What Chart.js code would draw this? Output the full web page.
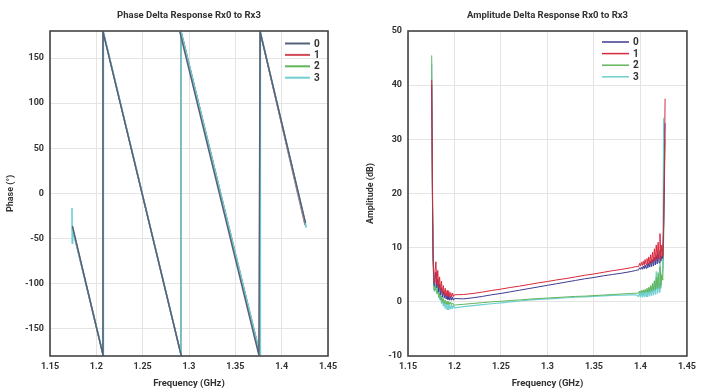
<!DOCTYPE html>
<html><head><meta charset="utf-8">
<script src="https://cdn.jsdelivr.net/npm/chart.js@4.4.0/dist/chart.umd.min.js"></script>
<style>
html,body{margin:0;padding:0;background:#fff;width:701px;height:392px;overflow:hidden}
#c1{position:absolute;left:0;top:0}
#c2{position:absolute;left:350px;top:0}
</style></head><body>
<canvas id="c1" width="350" height="392"></canvas>
<canvas id="c2" width="351" height="392"></canvas>
<script>
// ---------- shared ----------
const seriesLabels = ['0', '1', '2', '3'];
const xTicks = [1.15, 1.2, 1.25, 1.3, 1.35, 1.4, 1.45];
const xTickLabels = ['1.15', '1.2', '1.25', '1.3', '1.35', '1.4', '1.45'];

// ---------- phase chart ----------
const phaseTicks = [-150, -100, -50, 0, 50, 100, 150];
const phaseFreq0 = [1.1742, 1.2072, 1.2072, 1.2915, null, 1.2901, 1.3754, 1.3768, 1.4258];
const phaseVal0  = [-36, -179, 179, -179, null, 179, -179, 179, -33];
const phaseFreq1 = [1.1742, 1.2074, 1.2074, 1.2915, 1.2915, 1.3768, 1.3768, 1.4252];
const phaseVal1  = [-38, -179, 179, -179, 179, -179, 179, -35];
const phaseFreq2 = [1.1742, 1.2074, 1.2074, 1.2915, 1.2915, 1.3768, 1.3768, 1.4262];
const phaseVal2  = [-38, -179, 179, -179, 179, -179, 179, -36];
const phaseFreq3 = [1.1737, 1.1740, 1.1745, 1.2076, 1.2076, 1.2915, 1.2915, 1.3770, 1.3770, 1.4265];
const phaseVal3  = [-16, -55, -40, -179, 179, -179, 179, -179, 179, -38];

// ---------- amplitude chart ----------
const ampTicks = [-10, 0, 10, 20, 30, 40, 50];
const ampFreq = [
  1.1755, 1.1762, 1.1770,
  1.178, 1.179, 1.180, 1.181, 1.182, 1.183, 1.184, 1.185, 1.186, 1.187, 1.188, 1.189,
  1.190, 1.191, 1.192, 1.193, 1.194, 1.195, 1.196, 1.197, 1.198, 1.199, 1.200,
  1.21, 1.22, 1.23, 1.24, 1.25, 1.26, 1.27, 1.28, 1.29, 1.30, 1.31, 1.32, 1.33, 1.34,
  1.35, 1.36, 1.37, 1.38, 1.39, 1.395,
  1.398, 1.399, 1.400, 1.401, 1.402, 1.403, 1.404, 1.405, 1.406, 1.407, 1.408, 1.409,
  1.410, 1.411, 1.412, 1.413, 1.414, 1.415, 1.416, 1.417, 1.418, 1.419, 1.420, 1.421,
  1.422, 1.423, 1.424, 1.425, 1.4265
];
const amp0 = [
  40, 20, 8,
  3.0, 4.2, 5.5, 2.6, 4.2, 1.8, 3.3, 1.3, 2.6, 0.9, 2.0, 0.7,
  1.6, 0.5, 1.3, 0.4, 1.1, 0.3, 1.0, 0.3, 0.9, 0.3, 0.6,
  0.55, 0.75, 1.0, 1.3, 1.55, 1.85, 2.15, 2.45, 2.75, 3.05, 3.35, 3.65, 3.95, 4.25,
  4.5, 4.8, 5.05, 5.3, 5.6, 5.8,
  5.9, 6.3, 6.0, 6.4, 6.0, 6.6, 6.1, 6.8, 6.2, 7.0, 6.3, 7.2,
  6.4, 7.5, 6.5, 7.8, 6.6, 8.2, 6.8, 8.6, 7.0, 9.0, 7.2, 9.5,
  7.5, 8.5, 8.0, 14, 33
];
const amp1 = [
  41, 22, 9,
  3.5, 5.5, 7.4, 3.2, 5.8, 2.6, 4.6, 2.0, 3.8, 1.6, 3.0, 1.3,
  2.5, 1.1, 2.1, 1.0, 1.9, 0.9, 1.7, 0.9, 1.6, 1.0, 1.3,
  1.35, 1.55, 1.8, 2.1, 2.35, 2.65, 2.9, 3.2, 3.5, 3.75, 4.05, 4.3, 4.6, 4.9,
  5.15, 5.45, 5.75, 6.0, 6.3, 6.5,
  6.5, 7.1, 6.6, 7.3, 6.7, 7.5, 6.8, 7.8, 6.9, 8.0, 7.0, 8.3,
  7.1, 8.7, 7.2, 9.2, 7.4, 9.8, 7.6, 10.5, 7.8, 11.0, 8.0, 12.6,
  8.0, 10.5, 8.5, 15, 37.5
];
const amp2 = [
  45.5, 24, 8,
  2.2, 3.0, 2.5, 1.5, 2.4, 0.8, 1.6, 0.3, 1.0, -0.1, 0.6, -0.3,
  0.3, -0.4, 0.1, -0.5, 0.0, -0.5, -0.1, -0.5, -0.2, -0.5, -0.6,
  -0.45, -0.3, -0.15, 0.0, 0.1, 0.25, 0.35, 0.5, 0.6, 0.7, 0.8, 0.9, 1.0, 1.05,
  1.15, 1.25, 1.35, 1.45, 1.55, 1.6,
  1.6, 2.0, 1.6, 2.1, 1.7, 2.2, 1.7, 2.3, 1.8, 2.5, 1.8, 2.7,
  1.9, 3.0, 2.0, 3.4, 2.1, 3.9, 2.2, 4.5, 2.4, 5.4, 2.6, 6.5,
  3.0, 5.0, 4.0, 12, 30
];
const amp3 = [
  44, 23, 7,
  2.0, 2.8, 2.2, 4.6, 1.5, 3.0, 0.5, 1.8, -0.3, 0.8, -0.8, 0.2,
  -1.2, -0.2, -1.4, -0.4, -1.4, -0.6, -1.3, -0.6, -1.2, -0.6, -1.1,
  -0.9, -0.7, -0.5, -0.35, -0.2, 0.0, 0.15, 0.3, 0.45, 0.55, 0.65, 0.75, 0.85, 0.9,
  1.0, 1.1, 1.2, 1.25, 1.3, 1.3,
  1.0, 1.8, 0.9, 1.9, 0.9, 2.0, 0.9, 2.1, 1.0, 2.3, 1.0, 2.5,
  1.1, 2.8, 1.2, 3.2, 1.3, 3.8, 1.4, 5.6, 1.5, 4.5, 1.8, 7.4,
  2.5, 5.0, 6.0, 34, null
];

// ---------- helpers ----------
const pts = (xs, ys) => xs.map((x, i) => ({ x: x, y: ys[i] }));
const FONT = 'Roboto, "Open Sans", sans-serif';
const TXT = '#333333';

const framePlugin = {
  id: 'frameLegend',
  afterDatasetsDraw(chart, args, o) {
    const { ctx, chartArea: a } = chart;
    ctx.save();
    ctx.strokeStyle = '#444444';
    ctx.lineWidth = 1.6;
    ctx.strokeRect(a.left, a.top, a.right - a.left, a.bottom - a.top);
    // title centred over the plot area
    ctx.fillStyle = TXT;
    ctx.font = 'bold 9.5px ' + FONT;
    ctx.textAlign = 'center';
    ctx.textBaseline = 'middle';
    ctx.fillText(o.title, (a.left + a.right) / 2, 15.5);
    // legend
    chart.data.datasets.forEach((ds, i) => {
      const y = o.y0 + i * o.dy;
      ctx.strokeStyle = ds.borderColor;
      ctx.lineWidth = o.lw;
      ctx.beginPath();
      ctx.moveTo(o.x1, y);
      ctx.lineTo(o.x2, y);
      ctx.stroke();
      ctx.fillStyle = TXT;
      ctx.font = 'bold 10px ' + FONT;
      ctx.textBaseline = 'middle';
      ctx.textAlign = 'left';
      ctx.fillText(ds.label, o.tx, y + 0.5);
    });
    ctx.restore();
  }
};

function makeOptions(cfg) {
  return {
    responsive: false,
    animation: false,
    devicePixelRatio: 1,
    layout: { padding: { left: 0, right: cfg.padRight, top: 31, bottom: 0 } },
    elements: { point: { radius: 0 }, line: { tension: 0, borderJoinStyle: 'round' } },
    plugins: {
      legend: { display: false },
      tooltip: { enabled: false },
      title: { display: false },
      frameLegend: cfg.legend
    },
    scales: {
      x: {
        type: 'linear', min: 1.15, max: 1.45,
        afterBuildTicks: s => { s.ticks = xTicks.map(v => ({ value: v })); },
        afterFit: s => { s.height = 36; },
        ticks: {
          padding: 5, color: TXT, maxRotation: 0, autoSkip: false,
          font: { family: FONT, size: 9, weight: 'bold' },
          callback: (v, i) => xTickLabels[i]
        },
        grid: { color: '#e4e4e4', drawTicks: false, lineWidth: 1 },
        border: { display: false },
        title: {
          display: true, text: 'Frequency (GHz)', color: TXT,
          font: { family: FONT, size: 9.5, weight: 'bold', lineHeight: 1.2 },
          padding: { top: 0, bottom: 3 }
        }
      },
      y: {
        type: 'linear', min: cfg.yMin, max: cfg.yMax,
        afterBuildTicks: s => { s.ticks = cfg.yTicks.map(v => ({ value: v })); },
        afterFit: s => { s.width = cfg.yWidth; },
        ticks: {
          padding: 6, color: TXT,
          font: { family: FONT, size: 9, weight: 'bold' },
          callback: v => String(v)
        },
        grid: { color: '#e4e4e4', drawTicks: false, lineWidth: 1 },
        border: { display: false },
        title: {
          display: true, text: cfg.yTitle, color: TXT,
          font: { family: FONT, size: 9, weight: 'bold', lineHeight: 1.2 },
          padding: { top: cfg.yTitlePad, bottom: 0 }
        }
      }
    }
  };
}

// ---------- phase ----------
const phaseColors = ['#56607a', '#d24a5a', '#62b55a', '#6fcfd2'];
new Chart(document.getElementById('c1'), {
  type: 'line',
  data: {
    datasets: [
      { label: seriesLabels[0], data: pts(phaseFreq0, phaseVal0), borderColor: phaseColors[0], borderWidth: 1.5, order: 0, spanGaps: false },
      { label: seriesLabels[1], data: pts(phaseFreq1, phaseVal1), borderColor: phaseColors[1], borderWidth: 1.4, order: 2 },
      { label: seriesLabels[2], data: pts(phaseFreq2, phaseVal2), borderColor: phaseColors[2], borderWidth: 1.4, order: 3 },
      { label: seriesLabels[3], data: pts(phaseFreq3, phaseVal3), borderColor: phaseColors[3], borderWidth: 1.6, order: 1 }
    ]
  },
  options: makeOptions({
    padRight: 22, yMin: -180, yMax: 180, yTicks: phaseTicks, yWidth: 50,
    yTitle: 'Phase (°)', yTitlePad: 5,
    legend: { title: 'Phase Delta Response Rx0 to Rx3', x1: 285, x2: 310, tx: 314, y0: 43.5, dy: 11.4, lw: 2 }
  }),
  plugins: [framePlugin]
});

// ---------- amplitude ----------
const ampColors = ['#3d3d92', '#d8283c', '#62b55a', '#6fcfd2'];
new Chart(document.getElementById('c2'), {
  type: 'line',
  data: {
    datasets: [
      { label: seriesLabels[0], data: pts(ampFreq, amp0), borderColor: ampColors[0], borderWidth: 1, order: 1 },
      { label: seriesLabels[1], data: pts(ampFreq, amp1), borderColor: ampColors[1], borderWidth: 1, order: 0 },
      { label: seriesLabels[2], data: pts(ampFreq, amp2), borderColor: ampColors[2], borderWidth: 1, order: 2 },
      { label: seriesLabels[3], data: pts(ampFreq, amp3), borderColor: ampColors[3], borderWidth: 1.2, order: 3 }
    ]
  },
  options: makeOptions({
    padRight: 13, yMin: -10, yMax: 50, yTicks: ampTicks, yWidth: 58,
    yTitle: 'Amplitude (dB)', yTitlePad: 15,
    legend: { title: 'Amplitude Delta Response Rx0 to Rx3', x1: 252, x2: 279, tx: 283, y0: 42, dy: 11.6, lw: 1.5 }
  }),
  plugins: [framePlugin]
});
</script>
</body></html>
